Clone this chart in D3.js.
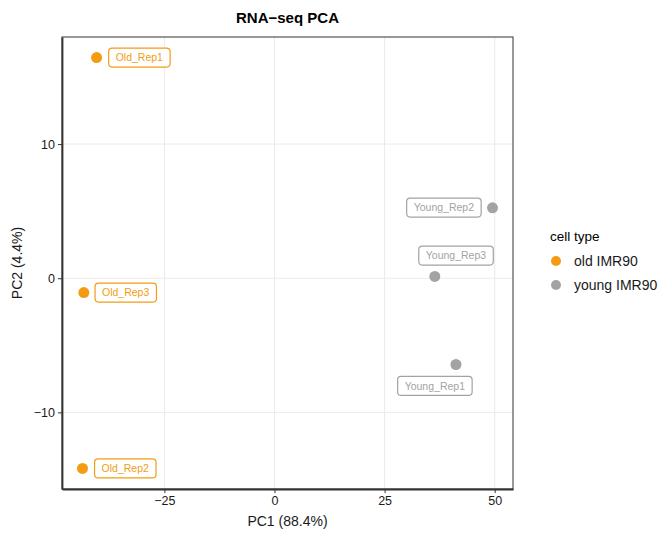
<!DOCTYPE html>
<html>
<head>
<meta charset="utf-8">
<script src="https://cdn.jsdelivr.net/npm/d3@7"></script>
<style>
  body { margin: 0; background: #fff; }
  text { font-family: "Liberation Sans", Arial, sans-serif; }
</style>
</head>
<body>
<div id="chart"></div>
<script>
// samples
var sampleNames = ["Old_Rep1", "Old_Rep2", "Old_Rep3", "Young_Rep1", "Young_Rep2", "Young_Rep3"];
var cellTypes   = ["old IMR90", "old IMR90", "old IMR90", "young IMR90", "young IMR90", "young IMR90"];
var pc1Values   = [-40.4, -43.6, -43.3, 41.2, 49.5, 36.4];
var pc2Values   = [16.45, -14.18, -1.07, -6.43, 5.25, 0.13];
// repelled label centres (data units)
var labelPc1    = [-30.7, -33.9, -33.8, 36.4, 38.45, 41.2];
var labelPc2    = [16.45, -14.18, -1.07, -8.03, 5.27, 1.69];

var typeLevels  = ["old IMR90", "young IMR90"];
var xTicks      = [-25, 0, 25, 50];
var yTicks      = [-10, 0, 10];

var width = 665, height = 536;
var margin = {left: 62, top: 37, right: 152, bottom: 47};

var svg = d3.select("#chart").append("svg")
    .attr("width", width)
    .attr("height", height);

var pw = width - margin.left - margin.right;
var ph = height - margin.top - margin.bottom;

function expand(ext) {
  var pad = (ext[1] - ext[0]) * 0.05;
  return [ext[0] - pad, ext[1] + pad];
}

var x = d3.scaleLinear().domain(expand(d3.extent(pc1Values))).range([0, pw]);
var y = d3.scaleLinear().domain(expand(d3.extent(pc2Values))).range([ph, 0]);

var color = d3.scaleOrdinal().domain(typeLevels).range(["#f39c12", "#a3a3a3"]);

var g = svg.append("g").attr("transform", "translate(" + margin.left + "," + margin.top + ")");

// grid
g.append("g").selectAll("line").data(xTicks).enter().append("line")
  .attr("x1", function (d) { return x(d); }).attr("x2", function (d) { return x(d); })
  .attr("y1", 0).attr("y2", ph)
  .style("stroke", "#ebebeb").style("stroke-width", 1);
g.append("g").selectAll("line").data(yTicks).enter().append("line")
  .attr("y1", function (d) { return y(d); }).attr("y2", function (d) { return y(d); })
  .attr("x1", 0).attr("x2", pw)
  .style("stroke", "#ebebeb").style("stroke-width", 1);

// panel border
g.append("rect").attr("x", 0).attr("y", 0).attr("width", pw).attr("height", ph)
  .style("fill", "none").style("stroke", "#333").style("stroke-width", 1);

// axes
var fmt = function (d) { return d < 0 ? "\u2212" + Math.abs(d) : d; };
var xAxis = g.append("g").attr("transform", "translate(0," + ph + ")")
  .call(d3.axisBottom(x).tickValues(xTicks).tickSize(4).tickSizeOuter(0).tickPadding(3).tickFormat(fmt));
var yAxis = g.append("g")
  .call(d3.axisLeft(y).tickValues(yTicks).tickSize(4).tickSizeOuter(0).tickPadding(3).tickFormat(fmt));
[xAxis, yAxis].forEach(function (a) {
  a.select(".domain").style("stroke", "#333").style("stroke-width", 1.8);
  a.selectAll(".tick line").style("stroke", "#333");
  a.selectAll(".tick text").style("font-size", "12.5px").style("fill", "#1a1a1a")
    .style("font-family", "Liberation Sans, Arial, sans-serif");
});

// points
g.selectAll("circle.pt").data(sampleNames).enter().append("circle")
  .attr("class", "pt")
  .attr("cx", function (d, i) { return x(pc1Values[i]); })
  .attr("cy", function (d, i) { return y(pc2Values[i]); })
  .attr("r", 5.5)
  .style("fill", function (d, i) { return color(cellTypes[i]); });

// labels
var labels = g.selectAll("g.lab").data(sampleNames).enter().append("g")
  .attr("class", "lab")
  .attr("transform", function (d, i) {
    return "translate(" + x(labelPc1[i]) + "," + y(labelPc2[i]) + ")";
  });
labels.append("text")
  .attr("text-anchor", "middle")
  .attr("dy", "0.36em")
  .style("font-size", "10.5px")
  .style("fill", function (d, i) { return color(cellTypes[i]); })
  .text(function (d) { return d; });
labels.each(function (d, i) {
  var bb = d3.select(this).select("text").node().getBBox();
  d3.select(this).insert("rect", "text")
    .attr("x", bb.x - 7).attr("y", -9.5)
    .attr("width", bb.width + 14).attr("height", 19)
    .attr("rx", 3.5)
    .style("fill", "#fff")
    .style("stroke", color(cellTypes[i]))
    .style("stroke-width", 1.2);
});

// title
svg.append("text")
  .attr("x", margin.left + pw / 2).attr("y", 23)
  .attr("text-anchor", "middle")
  .style("font-size", "15px").style("font-weight", "bold")
  .text("RNA\u2212seq PCA");

// axis titles
svg.append("text")
  .attr("x", margin.left + pw / 2).attr("y", 526)
  .attr("text-anchor", "middle")
  .style("font-size", "14px").style("fill", "#1a1a1a")
  .text("PC1 (88.4%)");
svg.append("text")
  .attr("transform", "translate(22," + (margin.top + ph / 2) + ") rotate(-90)")
  .attr("text-anchor", "middle")
  .style("font-size", "14px").style("fill", "#1a1a1a")
  .text("PC2 (4.4%)");

// legend
var legend = svg.append("g").attr("transform", "translate(550,0)");
legend.append("text").attr("x", 0).attr("y", 241)
  .style("font-size", "13.5px").text("cell type");
var items = legend.selectAll("g.item").data(typeLevels).enter().append("g")
  .attr("class", "item")
  .attr("transform", function (d, i) { return "translate(0," + (261 + i * 24) + ")"; });
items.append("circle").attr("cx", 6).attr("cy", 0).attr("r", 5)
  .style("fill", function (d) { return color(d); });
items.append("text").attr("x", 24).attr("y", 0).attr("dy", "0.36em")
  .style("font-size", "14px").style("fill", "#1a1a1a")
  .text(function (d) { return d; });
</script>
</body>
</html>
